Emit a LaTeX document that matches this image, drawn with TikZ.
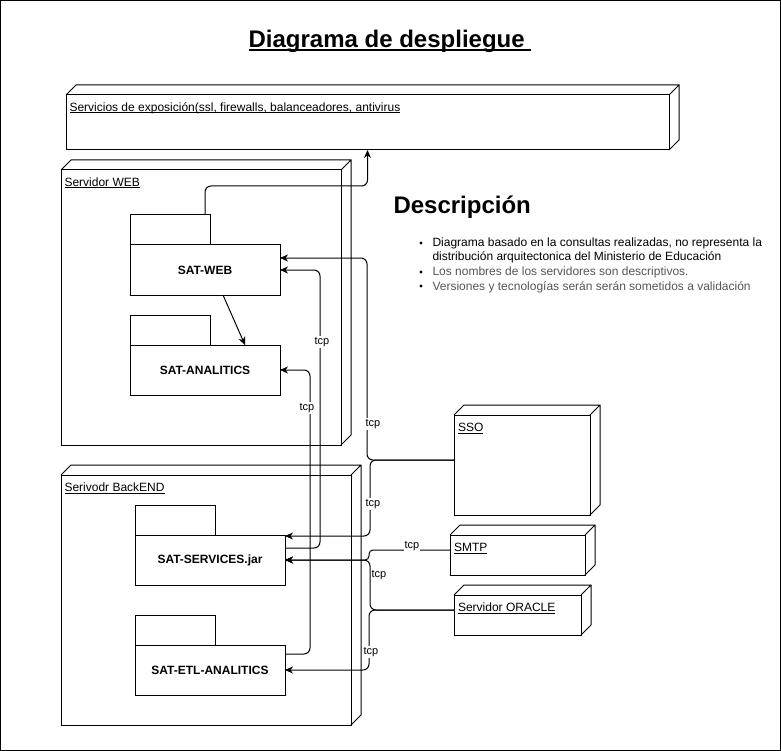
\documentclass[tikz,border=0pt]{standalone}
\usepackage{fontspec}
\setmainfont{Liberation Sans}
\usetikzlibrary{arrows.meta}
\definecolor{descgray}{HTML}{555555}
% underline: depth, thickness, text
\newcommand\ulw[3]{\leavevmode\setbox0\hbox{#3}\rlap{\rule[-#1]{\wd0}{#2}}\box0}
\newcommand\ulsmall[1]{\ulw{2pt}{1pt}{#1}}
\newcommand\depthfaces[1]{%
  \draw (#1.north west) -- ++(10,-10) -- ([shift={(10,-10)}]#1.north east)
        -- ([shift={(10,-10)}]#1.south east) -- (#1.south east)
        (#1.north east) -- ++(10,-10);}
\begin{document}
\begin{tikzpicture}[x=1pt,y=-1pt,line width=1pt,
  front/.style={draw,inner sep=0pt,outer sep=0pt,anchor=north west},
  tabbox/.style={draw,inner sep=0pt,outer sep=0pt,anchor=north west,minimum width=80pt,minimum height=30pt},
  pkg/.style={draw,inner sep=0pt,outer sep=0pt,anchor=north west,minimum width=150pt,minimum height=50pt,
              font=\fontsize{12}{14}\selectfont\bfseries},
  boxlbl/.style={anchor=base west,inner sep=0pt,font=\fontsize{12}{14}\selectfont},
  desctext/.style={anchor=base west,inner sep=0pt,font=\fontsize{12}{14.4}\selectfont},
  conn/.style={draw,rounded corners=6pt,-{Stealth[length=8pt,width=7pt,inset=2.5pt]}},
  tcp/.style={fill=white,inner sep=1pt,font=\fontsize{11}{13}\selectfont}]
\useasboundingbox (0,0) rectangle (781,751);
\draw (0.5,0.5) rectangle (780.5,750.5);

% title
\node[anchor=base,inner sep=0pt,font=\fontsize{24}{28}\selectfont\bfseries] (title) at (390,48)
  {\ulw{3.5pt}{2pt}{Diagrama de despliegue\ }};

% Servicios de exposicion
\node[front,minimum width=603pt,minimum height=55pt] (serv) at (66,95) {};
\depthfaces{serv}
\node[boxlbl] (servlbl) at (69,111.5) {\ulsmall{Servicios de exposición(ssl, firewalls, balanceadores, antivirus}};

% Servidor WEB
\node[front,minimum width=280pt,minimum height=275pt] (web) at (61,170) {};
\depthfaces{web}
\node[boxlbl] (weblbl) at (64,186.5) {\ulsmall{Servidor WEB}};

\node[tabbox] (swebtab) at (130,215) {};
\node[pkg] (sweb) at (130,245) {SAT-WEB};
\node[tabbox] (sanatab) at (130,315) {};
\node[pkg] (sana) at (130,345) {SAT-ANALITICS};

% Servidor BackEND
\node[front,minimum width=290pt,minimum height=250pt] (back) at (61,475) {};
\depthfaces{back}
\node[boxlbl] (backlbl) at (64,491.5) {\ulsmall{Serivodr BackEND}};

\node[tabbox] (ssrvtab) at (135,505) {};
\node[pkg] (ssrv) at (135,535) {SAT-SERVICES.jar};
\node[tabbox] (setltab) at (135,615) {};
\node[pkg] (setl) at (135,645) {SAT-ETL-ANALITICS};

% external nodes
\node[front,minimum width=136pt,minimum height=100pt] (sso) at (454,415) {};
\depthfaces{sso}
\node[boxlbl] (ssolbl) at (457.5,431.5) {\ulsmall{SSO}};

\node[front,minimum width=135pt,minimum height=40pt] (smtp) at (450,535) {};
\depthfaces{smtp}
\node[boxlbl] (smtplbl) at (453.5,551.5) {\ulsmall{SMTP}};

\node[front,minimum width=127pt,minimum height=40pt] (oracle) at (454,595) {};
\depthfaces{oracle}
\node[boxlbl] (oraclelbl) at (457.5,611.5) {\ulsmall{Servidor ORACLE}};

% description
\node[anchor=base west,inner sep=0pt,font=\fontsize{24}{28}\selectfont\bfseries] (desc) at (393,214) {Descripción};
\node[desctext] (d1) at (432,247)
  {Diagrama basado en la consultas realizadas, no representa la};
\node[desctext] (d1b) at (432,261)
  {distribución arquitectonica del Ministerio de Educación};
\node[desctext,text=descgray] (d2) at (432,276)
  {Los nombres de los servidores son descriptivos.};
\node[desctext,text=descgray] (d3) at (432,290)
  {Versiones y tecnologías serán serán sometidos a validación};
\fill (421,243) circle (1.7pt);
\fill (421,272) circle (1.7pt);
\fill (421,286) circle (1.7pt);

% connectors
\draw[conn] (sweb.north |- swebtab.north) -- ++(0,-29) -| (serv.south);
\draw[conn] ([xshift=18pt]sweb.south) -- ([xshift=40pt]sana.north);
\draw[conn] ([yshift=5pt]sso.west) -| ([xshift=87pt,yshift=12pt]sweb.east) -- ([yshift=12pt]sweb.east);
\draw[conn] ([yshift=5pt]sso.west) -| ([xshift=85pt,yshift=-1pt]ssrv.north east) -- ([yshift=-1pt]ssrv.north east);
\draw[conn] ([yshift=12pt]ssrv.east) -| ([xshift=40pt]sweb.east) -- (sweb.east);
\draw[conn] ([yshift=16pt]setl.east) -| ([xshift=30pt]sana.east) -- (sana.east);
\draw[conn,rounded corners=4pt] ([yshift=5pt]smtp.west) -| ([xshift=84pt]ssrv.east) -- (ssrv.east);
\draw[conn] ([yshift=5pt]oracle.west) -| ([xshift=85pt]ssrv.east) -- (ssrv.east);
\draw[conn] ([yshift=5pt]oracle.west) -| ([xshift=84pt]setl.east) -- (setl.east);

% tcp labels
\node[tcp] (t1) at (322,342) {tcp};
\node[tcp] (t2) at (307,408) {tcp};
\node[tcp] (t3) at (373,424) {tcp};
\node[tcp] (t4) at (373,504) {tcp};
\node[tcp] (t5) at (412,546) {tcp};
\node[tcp] (t6) at (379,575) {tcp};
\node[tcp] (t7) at (371,652) {tcp};
\end{tikzpicture}
\end{document}
